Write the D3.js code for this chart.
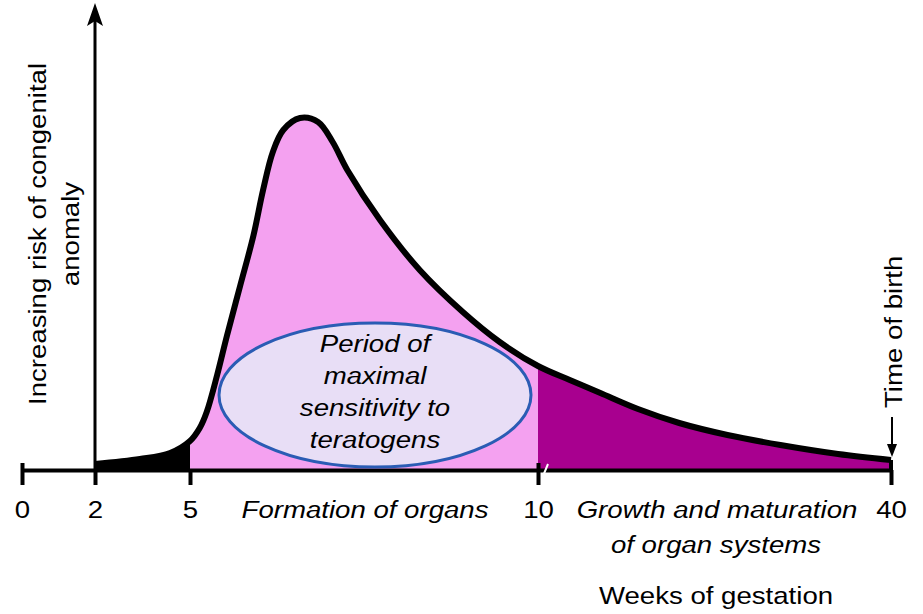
<!DOCTYPE html>
<html>
<head>
<meta charset="utf-8">
<script src="https://cdn.jsdelivr.net/npm/d3@7"></script>
<style>
  body { margin: 0; background: #fff; }
  svg { display: block; font-family: "Liberation Sans", Arial, sans-serif; }
</style>
</head>
<body>
<svg width="923" height="614"></svg>
<script>
'use strict';

// weeks of gestation and relative risk
const weeks = [2, 3.42, 4.37, 5, 5.14, 5.24, 5.39, 5.53, 5.72, 5.91, 6.05, 6.19, 6.34, 6.58, 6.84, 7.05, 7.26, 7.73, 8.3, 8.92, 9.45, 10, 12.7, 15.3, 18.5, 22, 26.1, 30.6, 35.5, 40];
const risk  = [1.5, 2.75, 4.25, 7.25, 10.5, 14.5, 23.75, 33.5, 46, 58.5, 70, 79.5, 85, 88, 87, 82, 75, 62.5, 50, 39.5, 32, 26, 22.5, 19.25, 15.25, 11.75, 8.75, 6.25, 4, 2.5];

const tickWeeks = [0, 2, 5, 10, 40];
const periods = [
  { name: 'embryo', from: 2, to: 5, color: '#000000' },
  { name: 'organs', from: 5, to: 10, color: '#f4a1f0' },
  { name: 'growth', from: 10, to: 40, color: '#a8008f' }
];
const ellipseLines = ['Period of', 'maximal', 'sensitivity to', 'teratogens'];
const yLabelLines = ['Increasing risk of congenital', 'anomaly'];

const svg = d3.select('svg');
const SX = 1.15; // the picture's text is a bit wider than the font

// broken x axis: each segment gets its own stretch
const x = d3.scaleLinear()
    .domain(tickWeeks)
    .range([22, 95, 190, 538, 891]);

const y = d3.scaleLinear()
    .domain([0, 100])
    .range([470, 70]);

const pts = weeks.map((w, i) => [w, risk[i]]);

const area = d3.area()
    .x(d => x(d[0]))
    .y0(y(0))
    .y1(d => y(d[1]))
    .curve(d3.curveCatmullRom.alpha(0.5));

const line = d3.line()
    .x(d => x(d[0]))
    .y(d => y(d[1]))
    .curve(d3.curveCatmullRom.alpha(0.5));

const defs = svg.append('defs');
periods.forEach(p => {
  defs.append('clipPath')
      .attr('id', 'clip-' + p.name)
    .append('rect')
      .attr('x', x(p.from))
      .attr('y', 0)
      .attr('width', x(p.to) - x(p.from))
      .attr('height', y(0) + 1);
});

svg.selectAll('.period')
    .data(periods)
    .enter()
    .append('path')
      .attr('class', 'period')
      .attr('d', area(pts))
      .attr('fill', d => d.color)
      .attr('clip-path', d => `url(#clip-${d.name})`);

svg.append('path')
    .attr('d', line(pts))
    .attr('fill', 'none')
    .attr('stroke', '#000')
    .attr('stroke-width', 6)
    .attr('stroke-linejoin', 'round');

// y axis with arrow head
svg.append('line')
    .attr('x1', x(2)).attr('x2', x(2))
    .attr('y1', y(0)).attr('y2', 14)
    .attr('stroke', '#000')
    .attr('stroke-width', 3);

svg.append('path')
    .attr('d', `M${x(2)},3 L${x(2) + 8},26 L${x(2)},21 L${x(2) - 8},26 Z`)
    .attr('fill', '#000');

// x axis
const xAxis = d3.axisBottom(x)
    .tickValues(tickWeeks)
    .tickFormat(d3.format('d'))
    .tickSize(15)
    .tickSizeOuter(0)
    .tickPadding(16);

const gx = svg.append('g')
    .attr('transform', `translate(0,${y(0)})`)
    .call(xAxis);

gx.select('.domain')
    .attr('stroke', '#000')
    .attr('stroke-width', 4);

gx.selectAll('.tick line')
    .attr('stroke', '#000')
    .attr('stroke-width', 4)
    .attr('y1', d => (d === 0 || d === 10) ? -7 : 0);

gx.selectAll('.tick text')
    .attr('fill', '#000')
    .attr('font-size', 24)
    .attr('font-family', '"Liberation Sans", Arial, sans-serif')
    .attr('transform', `scale(${SX},1)`);

// break mark next to 10
svg.append('line')
    .attr('x1', x(10) + 5).attr('y1', y(0) + 6)
    .attr('x2', x(10) + 10).attr('y2', y(0) - 6)
    .attr('stroke', '#fff')
    .attr('stroke-width', 2);

// end tick at 40 runs up to the curve
svg.append('line')
    .attr('x1', x(40)).attr('x2', x(40))
    .attr('y1', y(risk[risk.length - 1])).attr('y2', y(0))
    .attr('stroke', '#000')
    .attr('stroke-width', 4);

function label(str, tx, ty, opts) {
  opts = opts || {};
  const rot = opts.rotate ? ` rotate(${opts.rotate})` : '';
  return svg.append('text')
      .attr('transform', `translate(${tx},${ty})${rot} scale(${SX},1)`)
      .attr('text-anchor', opts.anchor || 'middle')
      .attr('font-size', opts.size || 24)
      .attr('font-style', opts.italic ? 'italic' : 'normal')
      .attr('fill', '#000')
      .text(str);
}

// period names under the axis
label('Formation of organs', 365, 518, { italic: true });
label('Growth and maturation', 717, 518, { italic: true });
label('of organ systems', 716, 553, { italic: true });
label('Weeks of gestation', 716, 604);

// y axis title
yLabelLines.forEach((t, i) => {
  label(t, 46 + i * 33, 234, { rotate: -90 });
});

// time of birth marker
label('Time of birth', 902, 408, { rotate: -90, anchor: 'start' });
svg.append('line')
    .attr('x1', x(40) + 1).attr('x2', x(40) + 1)
    .attr('y1', 417).attr('y2', 448)
    .attr('stroke', '#000')
    .attr('stroke-width', 2);
svg.append('path')
    .attr('d', `M${x(40) - 4},444 L${x(40) + 6},444 L${x(40) + 1},457 Z`)
    .attr('fill', '#000');

// sensitivity ellipse
svg.append('ellipse')
    .attr('cx', 375)
    .attr('cy', 395)
    .attr('rx', 156)
    .attr('ry', 72)
    .attr('fill', '#e8def6')
    .attr('stroke', '#2a5cb4')
    .attr('stroke-width', 3);

ellipseLines.forEach((t, i) => {
  label(t, 375, 352 + i * 32, { italic: true });
});
</script>
</body>
</html>
